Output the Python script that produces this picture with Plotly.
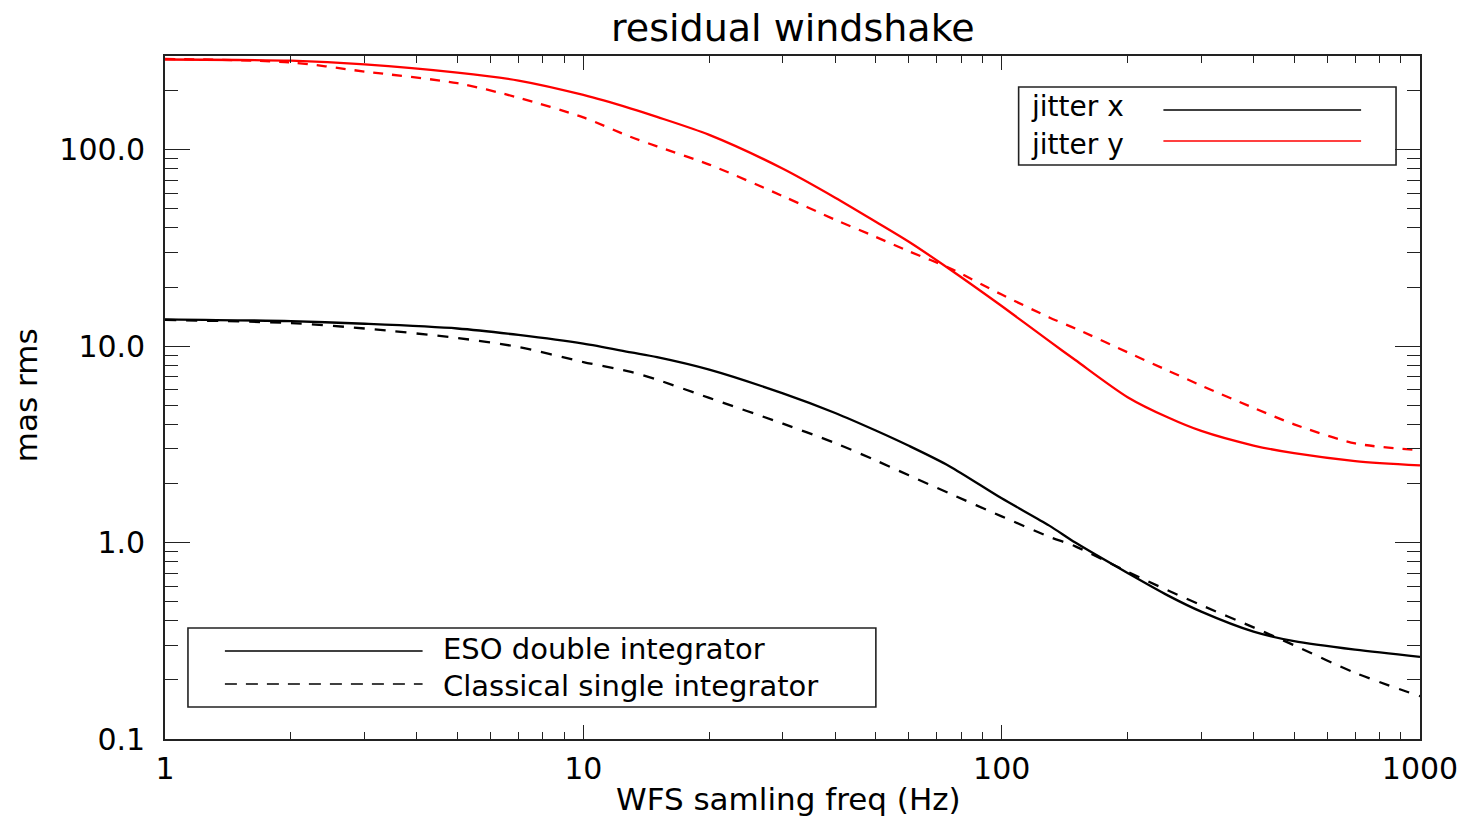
import plotly.graph_objects as go

# ---- data ----
freq = [1, 2, 3, 5, 7, 10, 13, 15, 20, 30, 40, 50, 60, 75, 100, 130, 150, 200, 250, 300, 400, 500, 700, 1000]
eso_y = [288, 284, 272, 247, 225, 190, 162, 147, 119, 80, 57, 43, 34, 24.7, 16.0, 10.6, 8.5, 5.5, 4.33, 3.7, 3.12, 2.85, 2.6, 2.47]
cls_y = [290, 278, 250, 218, 184, 146, 116, 104, 84, 58, 44, 36, 30.4, 25.0, 18.3, 14.0, 12.3, 9.3, 7.5, 6.3, 4.85, 4.0, 3.2, 2.95]
eso_x = [13.7, 13.4, 13.0, 12.3, 11.4, 10.3, 9.3, 8.8, 7.6, 5.75, 4.57, 3.72, 3.11, 2.45, 1.68, 1.22, 1.0, 0.70, 0.537, 0.445, 0.352, 0.315, 0.285, 0.262]
cls_x = [13.6, 13.1, 12.3, 11.0, 9.9, 8.3, 7.4, 6.75, 5.45, 4.03, 3.21, 2.62, 2.2, 1.78, 1.36, 1.07, 0.957, 0.71, 0.57, 0.48, 0.37, 0.30, 0.217, 0.165]

x_major = [1, 10, 100, 1000]
x_major_text = ["1", "10", "100", "1000"]
y_major = [0.1, 1, 10, 100]
y_major_text = ["0.1", "1.0", "10.0", "100.0"]

title = "residual windshake"
x_title = "WFS samling freq (Hz)"
y_title = "mas rms"
legend_color = ["jitter x", "jitter y"]
legend_style = ["ESO double integrator", "Classical single integrator"]

FONT = "DejaVu Sans"
RED = "#ff0000"
BLACK = "#000000"

fig = go.Figure()
fig.add_trace(go.Scatter(x=freq, y=eso_y, mode="lines", line=dict(color=RED, width=2.3, shape="spline", smoothing=0.8), showlegend=False))
fig.add_trace(go.Scatter(x=freq, y=cls_y, mode="lines", line=dict(color=RED, width=2.3, dash="10px,9px", shape="spline", smoothing=0.8), showlegend=False))
fig.add_trace(go.Scatter(x=freq, y=eso_x, mode="lines", line=dict(color=BLACK, width=2.3, shape="spline", smoothing=0.8), showlegend=False))
fig.add_trace(go.Scatter(x=freq, y=cls_x, mode="lines", line=dict(color=BLACK, width=2.3, dash="11px,10px", shape="spline", smoothing=0.8), showlegend=False))

x_minor = [m * d for d in (1, 10, 100) for m in range(2, 10)]
y_minor = [m * d for d in (0.1, 1, 10) for m in range(2, 10)] + [200, 300]

W, H = 1470, 819
L, R, T, B = 165, 48, 56, 80
pw, ph = W - L - R, H - T - B


def px(xp):
    return (xp - L) / pw


def py(yp):
    return (H - B - yp) / ph


axis_common = dict(
    type="log", showgrid=False, zeroline=False, showline=True,
    linecolor="#222", linewidth=1.6, ticks="inside", mirror="allticks",
    tickcolor="#222", tickwidth=1.4, tickfont=dict(family=FONT, size=30, color="black"),
)

fig.update_xaxes(
    **axis_common, range=[0, 3], tickmode="array", tickvals=x_major, ticktext=x_major_text,
    ticklen=14, ticklabelstandoff=2,
    minor=dict(tickmode="array", tickvals=x_minor, ticks="inside", ticklen=7, tickcolor="#222", tickwidth=1.4),
)
fig.update_yaxes(
    **axis_common, range=[-1, 2.4771], tickmode="array", tickvals=y_major, ticktext=y_major_text,
    ticklen=25, ticklabelstandoff=12,
    minor=dict(tickmode="array", tickvals=y_minor, ticks="inside", ticklen=13, tickcolor="#222", tickwidth=1.4),
)

shapes = []
ann = []

# titles
ann.append(dict(text=title, x=0.5, y=py(28), xref="paper", yref="paper", xanchor="center", yanchor="middle",
                showarrow=False, font=dict(family=FONT, size=38, color="black")))
ann.append(dict(text=x_title, x=px(789), y=py(799), xref="paper", yref="paper", xanchor="center", yanchor="middle",
                showarrow=False, font=dict(family=FONT, size=31, color="black")))
ann.append(dict(text=y_title, x=px(26), y=py(395), xref="paper", yref="paper", xanchor="center", yanchor="middle",
                textangle=-90, showarrow=False, font=dict(family=FONT, size=31, color="black")))

# legend 1 (top right): text left, line right
shapes.append(dict(type="rect", xref="paper", yref="paper", x0=px(1020), x1=px(1398), y0=py(165), y1=py(87),
                   line=dict(color="#222", width=1.6), fillcolor="rgba(0,0,0,0)"))
for i, (lab, col) in enumerate(zip(legend_color, [BLACK, RED])):
    yy = [110, 141][i]
    ty = [107, 144][i]
    ann.append(dict(text=lab, x=px(1031), y=py(ty), xref="paper", yref="paper", xanchor="left", yanchor="middle",
                    showarrow=False, borderpad=0, font=dict(family=FONT, size=28, color="black")))
    shapes.append(dict(type="line", xref="paper", yref="paper", x0=px(1165), x1=px(1363), y0=py(yy), y1=py(yy),
                       line=dict(color=col, width=1.6)))

# legend 2 (bottom left): line left, text right
shapes.append(dict(type="rect", xref="paper", yref="paper", x0=px(188), x1=px(877), y0=py(707), y1=py(628),
                   line=dict(color="#222", width=1.6), fillcolor="rgba(0,0,0,0)"))
for i, lab in enumerate(legend_style):
    yy = [651, 684][i]
    ty = [649, 686][i]
    ann.append(dict(text=lab, x=px(442), y=py(ty), xref="paper", yref="paper", xanchor="left", yanchor="middle",
                    showarrow=False, borderpad=0, font=dict(family=FONT, size=29, color="black")))
    shapes.append(dict(type="line", xref="paper", yref="paper", x0=px(225), x1=px(423), y0=py(yy), y1=py(yy),
                       line=dict(color=BLACK, width=1.6, dash=None if i == 0 else "12px,9px")))

fig.update_layout(
    width=W, height=H, margin=dict(l=L, r=R, t=T, b=B, pad=0),
    paper_bgcolor="white", plot_bgcolor="white",
    shapes=shapes, annotations=ann, showlegend=False,
    font=dict(family=FONT, color="black"),
)

fig.write_html("out.html")
